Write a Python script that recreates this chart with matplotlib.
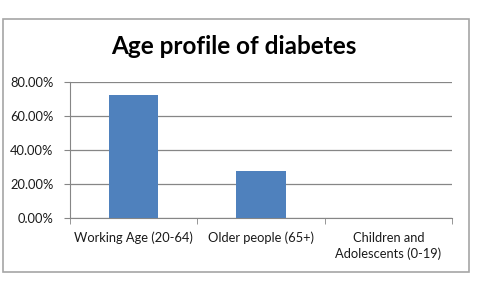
import matplotlib.pyplot as plt
from matplotlib.patches import Rectangle
from matplotlib.ticker import FuncFormatter

plt.rcParams['font.family'] = ['Lato', 'DejaVu Sans']

categories = ['Working Age (20-64)', 'Older people (65+)', 'Children and\nAdolescents (0-19)']
shares = [72.4, 27.6, 0.0]
y_ticks = [0, 20, 40, 60, 80]

grid_col = '#868686'

fig = plt.figure(figsize=(4.92, 2.9), dpi=100)
ax = fig.add_axes([70 / 492, 1 - 218 / 290, (452 - 70) / 492, (218 - 82) / 290])

# cadre gris autour du graphique (style Excel)
fig.patches.append(Rectangle((3 / 492, 1 - 272 / 290), 466 / 492, 253 / 290,
                             transform=fig.transFigure, fill=False,
                             edgecolor='#a6a6a6', linewidth=1.2))

x = list(range(len(categories)))
ax.bar(x, shares, width=0.39, color='#4f81bd', zorder=3)

ax.set_xlim(-0.5, len(categories) - 0.5)
ax.set_ylim(0, 80)
ax.set_yticks(y_ticks)
ax.yaxis.set_major_formatter(FuncFormatter(lambda v, p: f'{v:.2f}%'))
ax.grid(axis='y', color=grid_col, linewidth=0.9, zorder=0)

ax.set_xticks(x)
ax.set_xticklabels(categories, fontsize=9.3, color='#1a1a1a', linespacing=1.35)
ax.set_xticks([-0.5, 0.5, 1.5, 2.5], minor=True)
ax.tick_params(axis='x', which='major', length=0, pad=10)
ax.tick_params(axis='x', which='minor', length=4, color=grid_col, direction='out')
ax.tick_params(axis='y', length=4, color=grid_col, labelsize=9.3, labelcolor='#1a1a1a', pad=8)

for side in ['top', 'right']:
    ax.spines[side].set_visible(False)
ax.spines['left'].set_color(grid_col)
ax.spines['bottom'].set_color(grid_col)

fig.text(234 / 492, 1 - 47 / 290, 'Age profile of diabetes', ha='center', va='center',
         fontsize=17.5, fontweight='bold', color='#000000')

fig.savefig('out.png', dpi=100)
